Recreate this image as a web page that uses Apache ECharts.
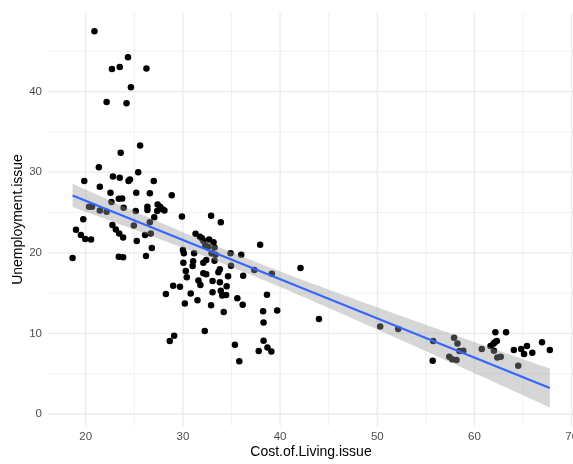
<!DOCTYPE html>
<html>
<head>
<meta charset="utf-8">
<script src="https://cdn.jsdelivr.net/npm/echarts@6/dist/echarts.min.js"></script>
<style>
  html, body { margin: 0; padding: 0; background: #ffffff; }
  #chart { width: 573px; height: 464px; }
</style>
</head>
<body>
<div id="chart"></div>
<script>
// Observations: cost-of-living concern vs unemployment concern
const costOfLiving = [
  20.9, 24.35, 22.7, 23.5, 26.25, 24.65, 22.15, 24.2, 25.6, 23.6,
  21.35, 25.4, 22.8, 23.5, 24.4, 24.55, 19.85, 27.0, 21.45, 22.55,
  25.2, 26.6, 28.85, 23.4, 23.75, 22.65, 27.4, 20.35, 20.65, 23.9,
  21.45, 22.15, 26.35, 26.35, 25.15, 27.65, 27.9, 27.35, 28.1, 19.75,
  27.05, 19.0, 19.5, 19.95, 20.55, 22.75, 23.1, 23.45, 23.85, 24.95,
  26.6, 26.7, 26.1, 25.25, 26.8, 26.2, 23.4, 23.85, 18.65,
  29.9, 32.9, 33.9, 31.3, 31.75, 31.95, 32.1, 32.7, 33.15, 32.3,
  32.6, 33.25, 30.0, 32.95, 33.35, 34.9, 36.0, 37.95, 30.1, 31.15,
  32.4, 32.1, 33.25, 30.05, 31.05, 31.0, 34.95, 33.8, 33.65, 30.3,
  30.4, 32.1, 32.4, 36.2, 37.35, 39.15, 34.65, 31.6, 31.8, 33.05,
  33.8, 29.0, 29.7, 34.5, 28.25, 30.8, 33.05, 33.9, 34.05, 34.45,
  31.5, 30.2, 32.9, 35.6, 36.15, 38.65, 38.25, 39.7, 34.2, 38.3,
  44.0, 42.1, 29.1, 28.65, 32.25, 35.35, 38.3, 38.7, 39.1, 37.8,
  35.8,
  50.3, 52.15, 55.75, 55.7, 57.9, 58.25, 58.45, 58.85, 57.4, 57.7,
  58.15, 60.75, 62.15, 63.25, 62.3, 62.1, 61.95, 61.65, 62.0, 62.35,
  62.7, 64.05, 64.8, 65.4, 65.1, 65.95, 66.95, 67.75, 64.5
];
const unemployment = [
  47.5, 44.25, 42.8, 43.05, 42.85, 40.55, 38.7, 38.55, 33.3, 32.4,
  30.6, 30.0, 29.45, 29.3, 28.9, 29.1, 28.9, 28.9, 28.2, 27.45,
  27.45, 27.4, 27.15, 26.7, 26.75, 26.3, 26.0, 25.7, 25.7, 25.6,
  25.25, 25.1, 25.7, 25.3, 25.2, 25.7, 25.4, 25.2, 25.25, 24.15,
  24.4, 22.85, 22.2, 21.7, 21.65, 23.45, 22.9, 22.4, 21.9, 23.4,
  23.8, 22.4, 22.2, 21.45, 20.6, 19.6, 19.5, 19.45, 19.35,
  24.5, 24.6, 23.8, 22.35, 22.0, 21.8, 21.5, 21.65, 21.3, 20.95,
  20.75, 20.65, 20.35, 19.95, 19.75, 19.95, 19.75, 21.0, 19.95, 19.95,
  19.1, 18.75, 19.0, 18.75, 18.95, 18.35, 18.4, 17.95, 17.6, 17.75,
  16.95, 17.45, 17.35, 17.15, 17.85, 17.4, 17.1, 16.55, 16.0, 16.5,
  16.35, 15.9, 15.8, 15.85, 14.9, 14.95, 15.1, 15.3, 14.7, 14.75,
  14.1, 13.7, 13.5, 14.35, 13.55, 14.8, 12.75, 12.85, 12.65, 11.35,
  11.8, 18.1, 9.7, 9.05, 10.3, 8.6, 9.1, 8.25, 7.75, 7.8,
  6.55,
  10.85, 10.55, 9.05, 6.6, 9.45, 8.75, 7.8, 7.85, 7.1, 6.8,
  6.7, 8.05, 10.15, 10.15, 9.05, 8.9, 8.7, 8.45, 7.85, 7.0,
  7.1, 7.95, 8.05, 8.45, 7.45, 7.6, 8.9, 7.95, 6.0
];

const xTicks = [20, 30, 40, 50, 60, 70];
const yTicks = [0, 10, 20, 30, 40];
const xMinorGrid = [25, 35, 45, 55, 65];
const yMinorGrid = [5, 15, 25, 35, 45];

const FONT = '"Liberation Sans", Arial, Helvetica, sans-serif';

// Ordinary least squares fit with a 95% confidence band
const n = costOfLiving.length;
const meanX = costOfLiving.reduce((a, b) => a + b, 0) / n;
const meanY = unemployment.reduce((a, b) => a + b, 0) / n;
let sxx = 0, sxy = 0;
for (let i = 0; i < n; i++) {
  sxx += (costOfLiving[i] - meanX) ** 2;
  sxy += (costOfLiving[i] - meanX) * (unemployment[i] - meanY);
}
const slope = sxy / sxx;
const intercept = meanY - slope * meanX;
let sse = 0;
for (let i = 0; i < n; i++) {
  sse += (unemployment[i] - (intercept + slope * costOfLiving[i])) ** 2;
}
const sigma = Math.sqrt(sse / (n - 2));
const tCrit = 1.975;
const xLo = Math.min(...costOfLiving);
const xHi = Math.max(...costOfLiving);
const steps = 80;
const band = [];
for (let i = 0; i <= steps; i++) {
  const x = xLo + (xHi - xLo) * i / steps;
  const yHat = intercept + slope * x;
  const se = sigma * Math.sqrt(1 / n + (x - meanX) ** 2 / sxx);
  band.push([x, yHat - tCrit * se, yHat + tCrit * se]);
}
const fitLine = [[xLo, intercept + slope * xLo], [xHi, intercept + slope * xHi]];

const verticalGrid = xTicks.map(v => [v, 0, 1]).concat(xMinorGrid.map(v => [v, 0, 0]));
const horizontalGrid = yTicks.map(v => [0, v, 1]).concat(yMinorGrid.map(v => [0, v, 0]));

const gridStyle = major => ({
  stroke: '#EBEBEB',
  lineWidth: major ? 1.3 : 0.65
});

const chart = echarts.init(document.getElementById('chart'), null, { renderer: 'canvas' });
chart.setOption({
  animation: false,
  backgroundColor: '#ffffff',
  grid: {
    left: 48, top: 13, width: 526, height: 413,
    containLabel: false,
    outerBoundsMode: 'none'
  },
  xAxis: {
    type: 'value',
    min: 16.12,
    max: 70.24,
    axisLine: { show: false },
    axisTick: { show: false },
    splitLine: { show: false },
    axisLabel: {
      customValues: xTicks,
      color: '#4D4D4D',
      fontSize: 11.5,
      fontFamily: FONT,
      margin: 5,
      hideOverlap: false
    },
    name: 'Cost.of.Living.issue',
    nameLocation: 'middle',
    nameGap: 19,
    nameMoveOverlap: false,
    nameTextStyle: { color: '#000000', fontSize: 14, fontFamily: FONT }
  },
  yAxis: {
    type: 'value',
    min: -1.49,
    max: 49.75,
    axisLine: { show: false },
    axisTick: { show: false },
    splitLine: { show: false },
    axisLabel: {
      customValues: yTicks,
      color: '#4D4D4D',
      fontSize: 11.5,
      fontFamily: FONT,
      margin: 6
    },
    name: 'Unemployment.issue',
    nameLocation: 'middle',
    nameGap: 23,
    nameMoveOverlap: false,
    nameTextStyle: { color: '#000000', fontSize: 14, fontFamily: FONT }
  },
  series: [
    {
      type: 'custom',
      z: 1,
      silent: true,
      dimensions: ['x', 'y', 'major'],
      encode: { x: 0, y: 1 },
      data: verticalGrid,
      clip: false,
      renderItem: (params, api) => {
        const cs = params.coordSys;
        const px = api.coord([api.value(0), 0])[0];
        return {
          type: 'line',
          shape: { x1: px, y1: cs.y, x2: px, y2: cs.y + cs.height },
          style: gridStyle(api.value(2) === 1)
        };
      }
    },
    {
      type: 'custom',
      z: 1,
      silent: true,
      dimensions: ['x', 'y', 'major'],
      encode: { x: 0, y: 1 },
      data: horizontalGrid,
      clip: false,
      renderItem: (params, api) => {
        const cs = params.coordSys;
        const py = api.coord([20, api.value(1)])[1];
        return {
          type: 'line',
          shape: { x1: cs.x, y1: py, x2: cs.x + cs.width, y2: py },
          style: gridStyle(api.value(2) === 1)
        };
      }
    },
    {
      type: 'scatter',
      z: 3,
      symbol: 'circle',
      symbolSize: 6.5,
      itemStyle: { color: '#000000', opacity: 1 },
      data: costOfLiving.map((x, i) => [x, unemployment[i]])
    },
    {
      type: 'custom',
      z: 4,
      silent: true,
      data: [[xLo, band[0][1]]],
      encode: { x: 0, y: 1 },
      renderItem: (params, api) => {
        const upper = band.map(b => api.coord([b[0], b[2]]));
        const lower = band.slice().reverse().map(b => api.coord([b[0], b[1]]));
        return {
          type: 'polygon',
          shape: { points: upper.concat(lower) },
          style: { fill: 'rgba(153,153,153,0.4)' }
        };
      }
    },
    {
      type: 'line',
      z: 5,
      silent: true,
      symbol: 'none',
      data: fitLine,
      lineStyle: { color: '#3366FF', width: 2 }
    }
  ]
});
</script>
</body>
</html>
